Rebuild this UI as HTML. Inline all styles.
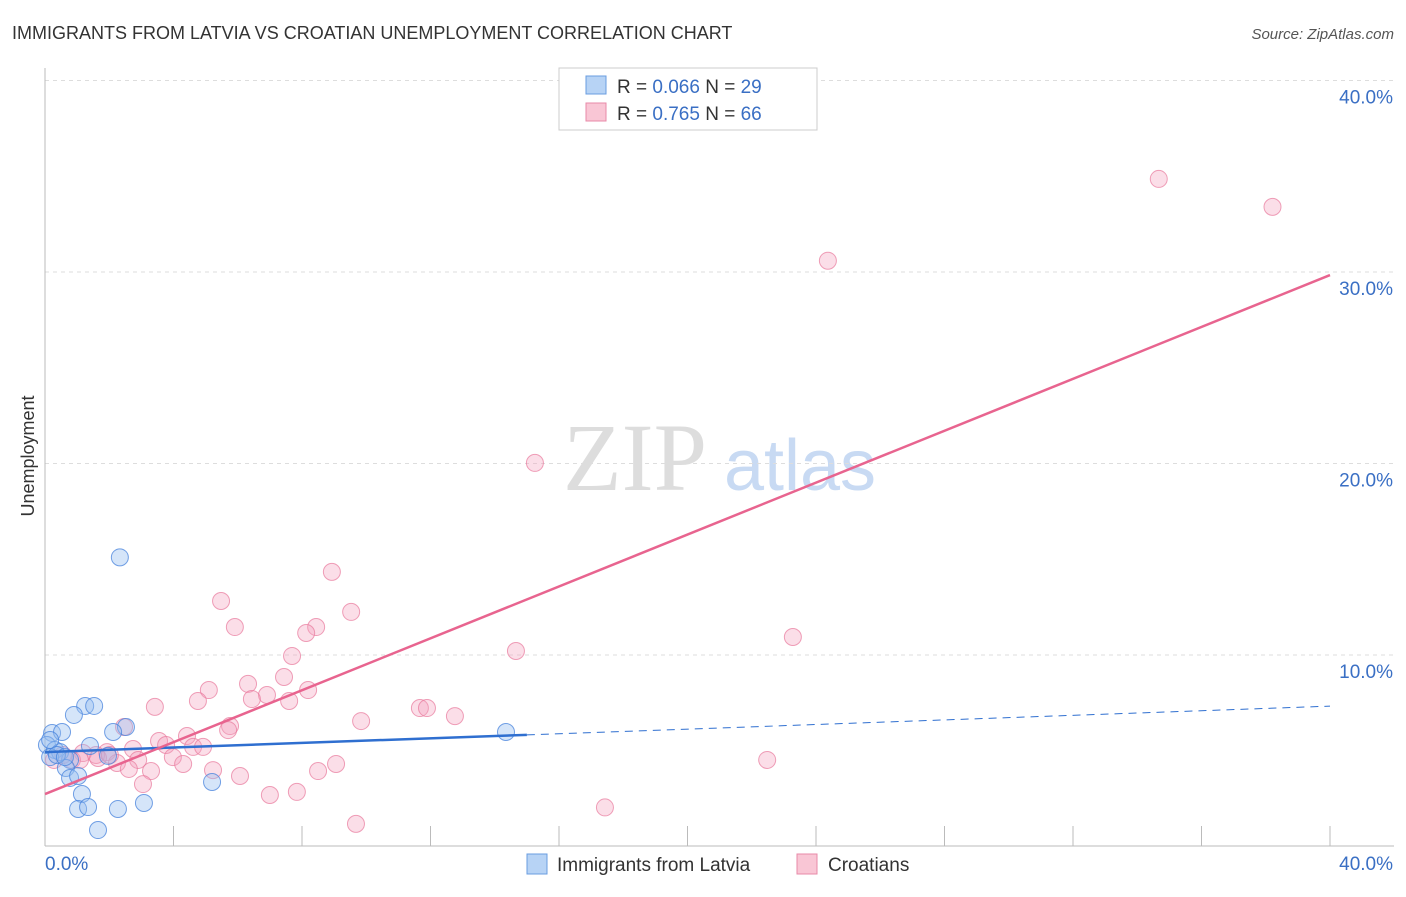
<!DOCTYPE html>
<html><head><meta charset="utf-8"><style>
body{margin:0;background:#fff;font-family:"Liberation Sans",sans-serif}
</style></head><body>
<svg id="c" width="1406" height="892" xmlns="http://www.w3.org/2000/svg" style="font-family:'Liberation Sans',sans-serif">
<text x="12" y="39" font-size="18" fill="#333">IMMIGRANTS FROM LATVIA VS CROATIAN UNEMPLOYMENT CORRELATION CHART</text>
<text x="1394" y="39" font-size="15" fill="#555" text-anchor="end" font-style="italic">Source: ZipAtlas.com</text>
<text x="34" y="456" font-size="18" fill="#333" text-anchor="middle" transform="rotate(-90 34 456)">Unemployment</text>
<g><text x="635" y="490" font-size="96" fill="#ddd" text-anchor="middle" font-family="Liberation Serif,serif">ZIP</text><text x="800" y="490" font-size="72" fill="#c8daf3" text-anchor="middle">atlas</text></g>
<g id="grid"></g><g id="axes"></g><g id="marks"></g>
<g>
<rect x="559" y="68" width="258" height="62" fill="#fff" stroke="#ccc"/>
<rect x="586" y="76" width="20" height="18" fill="#b7d3f5" stroke="#6a9de0"/>
<text x="617" y="93" font-size="19" fill="#333">R = <tspan fill="#3a6fc4">0.066</tspan>   N = <tspan fill="#3a6fc4">29</tspan></text>
<rect x="586" y="103" width="20" height="18" fill="#f9c6d5" stroke="#e88aa8"/>
<text x="617" y="120" font-size="19" fill="#333">R =  <tspan fill="#3a6fc4">0.765</tspan>   N = <tspan fill="#3a6fc4">66</tspan></text>
</g>
<g>
<rect x="527" y="854" width="20" height="20" fill="#b7d3f5" stroke="#6a9de0"/>
<text x="557" y="871" font-size="19" fill="#333">Immigrants from Latvia</text>
<rect x="797" y="854" width="20" height="20" fill="#f9c6d5" stroke="#e88aa8"/>
<text x="828" y="871" font-size="19" fill="#333">Croatians</text>
</g>
</svg>
<script>
const yTicks=[10,20,30,40];
const yTickLabels=["10.0%","20.0%","30.0%","40.0%"];
const xTicks=[0,4,8,12,16,20,24,28,32,36,40];
const blueX=[2.33,1.25,1.53,0.90,2.52,2.12,0.22,0.53,0.06,0.31,1.40,0.47,0.78,0.16,1.96,0.65,0.78,1.03,1.15,1.03,1.34,2.27,3.08,1.65,5.20,14.35,0.16,0.37,0.62];
const blueY=[15.1,7.34,7.34,6.87,6.24,5.98,5.93,5.98,5.30,5.04,5.25,4.93,4.52,4.67,4.73,4.10,3.58,3.68,2.74,1.96,2.06,1.96,2.27,0.86,3.37,5.98,5.56,4.78,4.67];
const pinkPx=[[1112,179],[1228,207],[828,261],[535,463],[332,572],[221,601],[351,612],[235,627],[316,627],[306,633],[793,637],[516,651],[292,656],[248,684],[209,690],[284,677],[267,695],[308,690],[252,699],[289,701],[198,701],[155,707],[420,708],[427,708],[455,716],[361,721],[124,727],[230,726],[228,730],[187,736],[159,741],[166,745],[193,747],[203,747],[133,749],[107,752],[96,755],[83,753],[72,760],[98,758],[138,760],[117,763],[129,769],[151,771],[173,757],[183,764],[213,770],[240,776],[318,771],[336,764],[767,761],[143,785],[270,796],[297,793],[356,825],[605,810],[63,755],[54,760],[80,760],[110,755]];
const pinkX=[34.67,38.21,24.37,15.25,8.93,5.48,9.53,5.91,8.44,8.13,23.28,14.66,7.69,6.32,5.10,7.44,6.91,8.19,6.44,7.60,4.76,3.42,11.67,11.89,12.76,9.84,2.46,5.76,5.70,4.42,3.55,3.77,4.61,4.92,2.74,1.93,1.59,1.18,0.84,1.65,2.90,2.24,2.61,3.30,3.98,4.30,5.23,6.07,8.50,9.06,22.48,3.05,7.00,7.84,9.68,17.43,0.56,0.28,1.09,2.02];
const pinkY=[34.86,33.40,30.59,20.03,14.34,12.82,12.25,11.46,11.46,11.15,10.94,10.21,9.95,8.49,8.17,8.85,7.91,8.17,7.70,7.60,7.60,7.29,7.23,7.23,6.81,6.55,6.24,6.29,6.08,5.77,5.51,5.30,5.20,5.20,5.09,4.93,4.78,4.88,4.52,4.62,4.52,4.36,4.05,3.94,4.67,4.31,3.99,3.68,3.94,4.31,4.52,3.26,2.69,2.85,1.18,2.04,4.78,4.52,4.52,4.78];
const blueTrend=[4.93,7.33], pinkTrend=[2.74,29.84], blueSolidEnd=15;
const X=v=>45+v*32.125, Y=v=>846.5-v*19.15;
const NS="http://www.w3.org/2000/svg";
function mk(p,t,a){const e=document.createElementNS(NS,t);for(const k in a)e.setAttribute(k,a[k]);document.getElementById(p).appendChild(e);return e;}
yTicks.forEach((t,i)=>{
 const g=mk('grid','line',{x1:45,x2:1394,y1:Y(t),y2:Y(t),stroke:'#ddd','stroke-dasharray':'4 4'});
 
 
 const l=mk('axes','text',{x:1393,y:Y(t)+23,'font-size':19,fill:'#3a6fc4','text-anchor':'end'});
 l.textContent=yTickLabels[i];
 
 
});
const ya=mk('axes','line',{x1:45,x2:45,y1:68,y2:846,stroke:'#bbb'});


const xa=mk('axes','line',{x1:45,x2:1394,y1:846,y2:846,stroke:'#bbb'});


xTicks.forEach(t=>{const e=mk('axes','line',{x1:X(t),x2:X(t),y1:826,y2:846,stroke:'#bbb'});
 
 });
[[45,'start','0.0%'],[1393,'end','40.0%']].forEach(a=>{const e=mk('axes','text',{x:a[0],y:870,'font-size':19,fill:'#3a6fc4','text-anchor':a[1]});e.textContent=a[2];
 
 });
pinkX.forEach((x,i)=>{const c=mk('marks','circle',{cx:X(x),cy:Y(pinkY[i]),r:8.5,fill:'rgba(244,160,190,0.35)',stroke:'rgba(232,120,155,0.7)'});
 
 });
blueX.forEach((x,i)=>{const c=mk('marks','circle',{cx:X(x),cy:Y(blueY[i]),r:8.5,fill:'rgba(150,190,240,0.4)',stroke:'rgba(70,130,220,0.75)'});
 
 });
const bt=v=>blueTrend[0]+(blueTrend[1]-blueTrend[0])*v/40;
const l1=mk('marks','line',{x1:X(0),y1:Y(bt(0)),x2:X(blueSolidEnd),y2:Y(bt(blueSolidEnd)),stroke:'#2f6fd0','stroke-width':2.5});


const l2=mk('marks','line',{x1:X(blueSolidEnd),y1:Y(bt(blueSolidEnd)),x2:X(40),y2:Y(bt(40)),stroke:'#2f6fd0','stroke-width':1,'stroke-dasharray':'8 6'});


const l3=mk('marks','line',{x1:X(0),y1:Y(pinkTrend[0]),x2:X(40),y2:Y(pinkTrend[1]),stroke:'#e8648f','stroke-width':2.5});


</script>
</body></html>
